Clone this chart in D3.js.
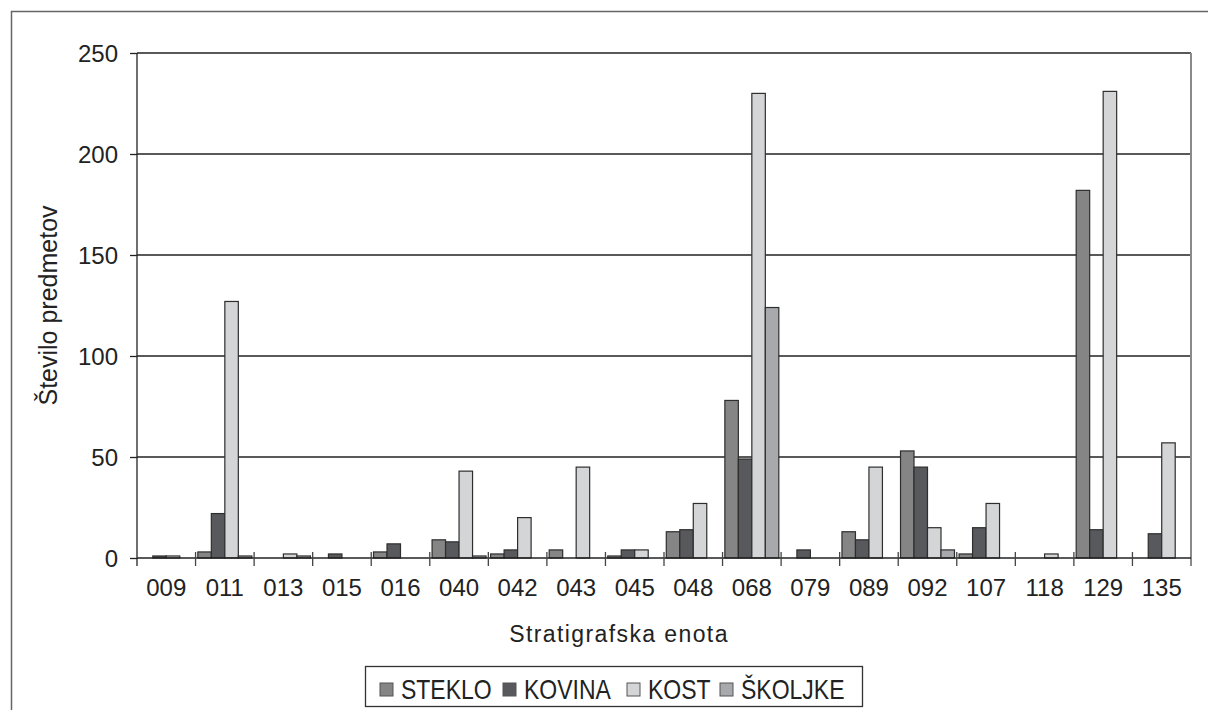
<!DOCTYPE html>
<html>
<head>
<meta charset="utf-8">
<script src="https://cdn.jsdelivr.net/npm/d3@7"></script>
<style>
  body { margin: 0; background: #fff; }
  svg text { font-family: "Liberation Sans", Arial, sans-serif; fill: #222; }
</style>
</head>
<body>
<script>
// stratigraphic units
var units = ["009", "011", "013", "015", "016", "040", "042", "043", "045",
             "048", "068", "079", "089", "092", "107", "118", "129", "135"];
var seriesNames = ["STEKLO", "KOVINA", "KOST", "ŠKOLJKE"];
var steklo  = [0, 3, 0, 0, 3, 9, 2, 4, 1, 13, 78, 0, 13, 53, 2, 0, 182, 0];
var kovina  = [1, 22, 0, 2, 7, 8, 4, 0, 4, 14, 49, 4, 9, 45, 15, 0, 14, 12];
var kost    = [1, 127, 2, 0, 0, 43, 20, 45, 4, 27, 230, 0, 45, 15, 27, 2, 231, 57];
var skoljke = [0, 1, 1, 0, 0, 1, 0, 0, 0, 0, 124, 0, 0, 4, 0, 0, 0, 0];
var yTicks = [0, 50, 100, 150, 200, 250];
var colors = ["#858585", "#58595d", "#d4d5d7", "#a8a9ad"];

var values = [steklo, kovina, kost, skoljke];

var margin = { top: 53, right: 17, bottom: 152, left: 137 },
    width = 1208 - margin.left - margin.right,
    height = 710 - margin.top - margin.bottom;

var root = d3.select("body").append("svg")
    .attr("width", 1208)
    .attr("height", 710);

// outer frame (cut off by the page on right and bottom)
root.append("rect")
    .attr("x", 11.5).attr("y", 11.5)
    .attr("width", 1230).attr("height", 730)
    .attr("fill", "none")
    .attr("stroke", "#666")
    .attr("stroke-width", 1.5);

var svg = root.append("g")
    .attr("transform", "translate(" + margin.left + "," + margin.top + ")");

var x0 = d3.scaleBand().domain(units).range([0, width]).padding(0);
var x1 = d3.scaleBand().domain(seriesNames).range([0, x0.bandwidth()])
    .paddingInner(0).paddingOuter(0.17);
var y = d3.scaleLinear().domain([0, 250]).range([height, 0]);

// gridlines
svg.append("g")
    .selectAll("line")
    .data(yTicks.slice(1))
    .join("line")
    .attr("x1", 0).attr("x2", width)
    .attr("y1", function(d) { return y(d); })
    .attr("y2", function(d) { return y(d); })
    .attr("stroke", "#222")
    .attr("stroke-width", 1.3);

// right border of the plot area
svg.append("line")
    .attr("x1", width).attr("x2", width)
    .attr("y1", 0).attr("y2", height + 8)
    .attr("stroke", "#8a8a8a")
    .attr("stroke-width", 2);

// bars
var groups = svg.append("g")
    .selectAll("g")
    .data(units)
    .join("g")
    .attr("transform", function(d) { return "translate(" + x0(d) + ",0)"; });

groups.selectAll("rect")
    .data(function(d, i) {
        return seriesNames.map(function(s, j) { return { s: s, j: j, v: values[j][i] }; })
            .filter(function(e) { return e.v > 0; });
    })
    .join("rect")
    .attr("x", function(d) { return x1(d.s); })
    .attr("y", function(d) { return y(d.v); })
    .attr("width", x1.bandwidth())
    .attr("height", function(d) { return height - y(d.v); })
    .attr("fill", function(d) { return colors[d.j]; })
    .attr("stroke", "#2e2e2e")
    .attr("stroke-width", 1.2);

// y axis
var yAxis = svg.append("g")
    .call(d3.axisLeft(y).tickValues(yTicks).tickSize(7).tickPadding(12));
yAxis.select(".domain").attr("stroke", "#222").attr("stroke-width", 1.3)
    .attr("d", "M0," + (height + 8) + "V0");
yAxis.selectAll(".tick line").attr("stroke", "#222").attr("stroke-width", 1.3);
yAxis.selectAll(".tick text")
    .style("font-size", "24px")
    .attr("fill", "#222")
    .attr("dy", "0.36em");

// x axis: baseline, ticks between categories, labels in the middle
var xAxis = svg.append("g").attr("transform", "translate(0," + height + ")");
xAxis.append("line")
    .attr("x1", 0).attr("x2", width)
    .attr("stroke", "#222").attr("stroke-width", 1.3);
xAxis.selectAll(".sep")
    .data(units.slice(1))
    .join("line")
    .attr("class", "sep")
    .attr("x1", function(d) { return x0(d); })
    .attr("x2", function(d) { return x0(d); })
    .attr("y1", -6).attr("y2", 8)
    .attr("stroke", "#444").attr("stroke-width", 1.3);
xAxis.selectAll(".lab")
    .data(units)
    .join("text")
    .attr("class", "lab")
    .attr("x", function(d) { return x0(d) + x0.bandwidth() / 2; })
    .attr("y", 38)
    .attr("text-anchor", "middle")
    .style("font-size", "24px")
    .text(function(d) { return d; });

// axis titles
svg.append("text")
    .attr("x", 482)
    .attr("y", height + 84)
    .attr("text-anchor", "middle")
    .style("font-size", "23px")
    .style("letter-spacing", "1.4px")
    .text("Stratigrafska enota");

svg.append("text")
    .attr("transform", "rotate(-90)")
    .attr("x", -(height / 2))
    .attr("y", -80)
    .attr("text-anchor", "middle")
    .style("font-size", "25px")
    .text("Število predmetov");

// legend
var legend = root.append("g");
legend.append("rect")
    .attr("x", 365.5).attr("y", 666.5)
    .attr("width", 497).attr("height", 40)
    .attr("fill", "#fff")
    .attr("stroke", "#333")
    .attr("stroke-width", 1.3);
var legendX = [380, 503, 627, 720];
var items = legend.selectAll(".item")
    .data(seriesNames)
    .join("g")
    .attr("class", "item")
    .attr("transform", function(d, i) { return "translate(" + legendX[i] + ",683)"; });
items.append("rect")
    .attr("width", 13).attr("height", 13)
    .attr("fill", function(d, i) { return colors[i]; })
    .attr("stroke", "#555");
items.append("text")
    .attr("transform", "translate(21,16) scale(1,1.2)")
    .style("font-size", "23px")
    .text(function(d) { return d; });
</script>
</body>
</html>
